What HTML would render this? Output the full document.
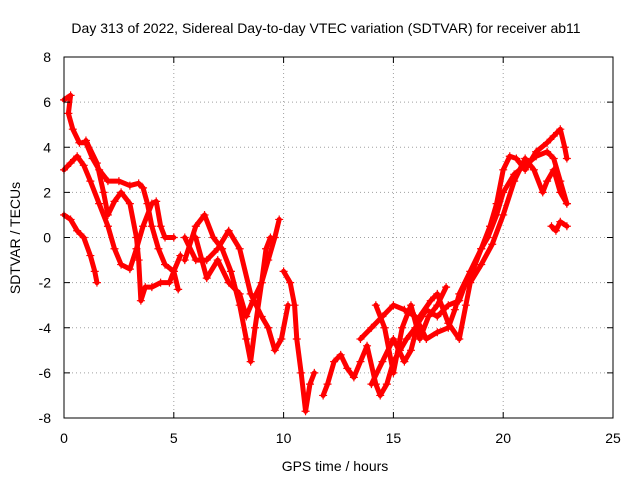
<!DOCTYPE html>
<html><head><meta charset="utf-8"><style>
body{margin:0;background:#fff}
svg{display:block;font-family:"Liberation Sans",Arial,sans-serif}
</style></head><body>
<svg id="chart" width="640" height="480" viewBox="0 0 640 480">
<rect width="640" height="480" fill="#fff"/>
<text x="326" y="33" font-size="14" text-anchor="middle">Day 313 of 2022, Sidereal Day-to-day VTEC variation (SDTVAR) for receiver ab11</text>
<g id="grid"></g>
<g id="series"></g>
<rect x="64" y="57" width="549" height="361" fill="none" stroke="#000" stroke-width="1"/>
<g id="axes"></g>
<text x="335" y="471" font-size="14" text-anchor="middle">GPS time / hours</text>
<text x="20" y="238" font-size="14" text-anchor="middle" transform="rotate(-90 20 238)">SDTVAR / TECUs</text>
</svg>
<script>
const xTicks=[0,5,10,15,20,25];
const yTicks=[-8,-6,-4,-2,0,2,4,6,8];
const track1=[[0,1.0],[0.3,0.8],[0.6,0.3],[0.9,0],[1.2,-0.8],[1.4,-1.5],[1.5,-2.0]];
const track2=[[0,3.0],[0.3,3.3],[0.6,3.6],[0.9,3.2],[1.2,2.5],[1.6,1.5],[2,0.5],[2.3,-0.5],[2.6,-1.2],[3,-1.4],[3.3,-0.5],[3.6,0.5],[4,1.5],[4.2,1.6],[4.4,0.5],[4.6,0],[5,0]];
const track3=[[0,6.1],[0.3,6.3],[0.2,5.5],[0.4,4.8],[0.7,4.2],[1.0,4.2],[1.3,3.5],[1.6,3.0],[2.0,2.5],[2.5,2.5],[3.0,2.3],[3.4,2.4],[3.6,2.2],[3.8,1.5],[4.0,0.5],[4.3,-0.5],[4.6,-1.2],[5,-1.5],[5.3,-0.8]];
const track4=[[1,4.3],[1.5,3.3],[1.8,2.0],[2.0,1.0],[2.3,1.6],[2.6,2.0],[3.0,1.5],[3.3,0],[3.4,-1.0],[3.5,-2.8],[3.7,-2.2],[4.0,-2.2],[4.4,-2.0],[4.8,-2.0],[5.0,-1.5],[5.2,-2.3]];
const track5=[[5.5,-1],[6,0.5],[6.4,1.0],[6.8,0],[7.2,-0.5],[7.6,-1.5],[8,-3],[8.3,-4.5],[8.5,-5.5],[8.7,-4],[9,-2],[9.3,-1],[9.6,0],[9.8,0.8]];
const track6=[[5.5,0],[6,-1],[6.5,-1],[7,-0.5],[7.5,0.3],[8,-0.5],[8.5,-2.5],[9,-3.5],[9.3,-4.0],[9.6,-5],[9.9,-4.5],[10.2,-3]];
const track7=[[6,0],[6.5,-1.8],[7,-1],[7.5,-2],[8,-2.5],[8.3,-3.5],[8.6,-2.8],[9,-2.0],[9.2,-0.5],[9.4,0]];
const track8=[[10,-1.5],[10.3,-2.0],[10.5,-3.0],[10.6,-4.5],[10.8,-6],[11,-7.7],[11.2,-6.5],[11.4,-6]];
const track9=[[11.8,-7],[12.0,-6.5],[12.3,-5.5],[12.6,-5.2],[12.9,-5.8],[13.2,-6.2],[13.5,-5.5],[13.8,-4.8],[14.2,-6.5],[14.4,-7.0],[14.7,-6.5],[15,-5.5],[15.3,-5],[15.6,-4.5],[16,-4],[16.5,-3.2],[17,-3.5],[17.5,-3.0],[18,-2.8],[18.3,-2.0],[18.6,-1.5],[19,-0.5],[19.3,0],[19.7,1.0],[20,2.0],[20.5,2.8],[21,3.2],[21.5,3.6],[22,3.8],[22.3,3.5],[22.6,2.5],[22.9,1.5]];
const track10=[[13.5,-4.5],[14,-4],[14.5,-3.5],[15,-3],[15.5,-3.2],[16,-3.5],[16.5,-4.5],[17,-4.2],[17.5,-4.0],[17.8,-3.2],[18,-2.5],[18.5,-1.5],[19,-0.5],[19.4,0.5],[19.7,1.5],[20,3.0],[20.3,3.6],[20.6,3.5],[21,3.0],[21.5,3.8],[22,4.2],[22.3,4.5],[22.6,4.8],[22.8,4.0],[22.9,3.5]];
const track11=[[14,-6.5],[14.5,-5.5],[15,-4.5],[15.5,-5.5],[15.8,-5.0],[16.2,-3.5],[16.7,-2.8],[17,-2.5],[17.5,-3.8],[18,-4.5],[18.3,-3.0],[18.5,-2.0],[19,-1.2],[19.5,-0.3],[20,1.0],[20.5,2.5],[21,3.5],[21.4,3.0],[21.8,2.0],[22.0,2.5],[22.3,3.0],[22.6,2.0],[22.9,1.5]];
const track12=[[22.2,0.5],[22.4,0.3],[22.6,0.7],[22.9,0.5]];
const track13=[[14.2,-3],[14.6,-4],[15,-6],[15.4,-4],[15.8,-3],[16.2,-4.5],[16.6,-3.5],[17,-3],[17.4,-2.2]];
const tracks=[track1,track2,track3,track4,track5,track6,track7,track8,track9,track10,track11,track12,track13];

const X0=64,X1=613,Y0=418,Y1=57;
const xs=v=>X0+(v-0)/(25-0)*(X1-X0);
const ys=v=>Y0-(v+8)/16*(Y0-Y1);
const NS="http://www.w3.org/2000/svg";
const grid=document.getElementById('grid'),axes=document.getElementById('axes'),ser=document.getElementById('series');
function mk(tag,at,parent){const e=document.createElementNS(NS,tag);for(const k in at)e.setAttribute(k,at[k]);parent.appendChild(e);return e;}
xTicks.forEach(t=>{const x=xs(t);
 if(t>0&&t<25){const g=mk('line',{x1:x,x2:x,y1:Y1,y2:Y0,stroke:'#a0a0a0','stroke-dasharray':'1,3'},grid);
 
 }
 const a=mk('line',{x1:x,x2:x,y1:Y0,y2:Y0-6,stroke:'#000'},axes);
 
 
 const b=mk('line',{x1:x,x2:x,y1:Y1,y2:Y1+6,stroke:'#000'},axes);
 
 
 const l=mk('text',{x:x,y:443,'font-size':14,'text-anchor':'middle'},axes);l.textContent=t;
 
 
});
yTicks.forEach(t=>{const y=ys(t);
 if(t>-8&&t<8){const g=mk('line',{x1:X0,x2:X1,y1:y,y2:y,stroke:'#a0a0a0','stroke-dasharray':'1,3'},grid);
 
 }
 const a=mk('line',{x1:X0,x2:X0+6,y1:y,y2:y,stroke:'#000'},axes);
 
 
 const b=mk('line',{x1:X1,x2:X1-6,y1:y,y2:y,stroke:'#000'},axes);
 
 
 const l=mk('text',{x:51,y:y+5,'font-size':14,'text-anchor':'end'},axes);l.textContent=t;
 
 
});
tracks.forEach(tr=>{
 const pl=mk('polyline',{points:tr.map(p=>xs(p[0])+','+ys(p[1])).join(' '),fill:'none',stroke:'#f00','stroke-width':5,'stroke-linejoin':'round','stroke-linecap':'round'},ser);
 
 
 tr.forEach(p=>{const x=xs(p[0]),y=ys(p[1]);
  const m=mk('path',{d:`M${x-4},${y}H${x+4}M${x},${y-4}V${y+4}`,stroke:'#f00','stroke-width':1.2},ser);
  
  
 });
});
</script>
</body></html>
